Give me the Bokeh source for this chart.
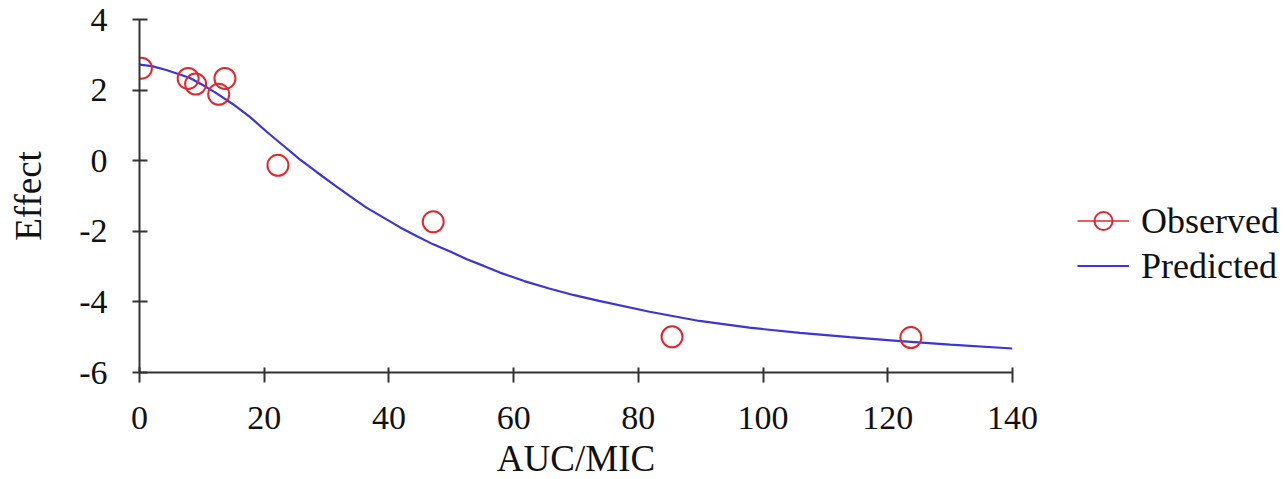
from bokeh.plotting import figure
from bokeh.models import Range1d, FixedTicker, Legend, LegendItem, PrintfTickFormatter
from bokeh.embed import file_html
from bokeh.resources import INLINE

obs_x = [0.3, 7.8, 9.0, 12.7, 13.7, 22.2, 47.1, 85.4, 123.7]
obs_y = [2.62, 2.33, 2.17, 1.88, 2.33, -0.13, -1.73, -4.99, -5.01]

# Predicted curve
pred_x = [0, 2, 4.3, 8, 10, 12, 15, 17.7, 20.4, 22.7, 25.7, 28.4, 31.1, 33.8, 36.4, 39.2,
          41.8, 44.5, 47.1, 49.9, 52.5, 55.2, 57.8, 61.7, 65.7, 69.7, 73.7, 81.8, 89.8, 97.8,
          105.9, 113.9, 122, 130, 140]
pred_y = [2.72, 2.68, 2.57, 2.35, 2.16, 1.95, 1.60, 1.24, 0.82, 0.48, 0.04, -0.32, -0.67, -1.01,
          -1.33, -1.62, -1.89, -2.14, -2.37, -2.58, -2.79, -2.98, -3.17, -3.41, -3.62, -3.81,
          -3.97, -4.28, -4.54, -4.73, -4.88, -5.00, -5.11, -5.21, -5.32]

x_ticks = [0, 20, 40, 60, 80, 100, 120, 140]
y_ticks = [-6, -4, -2, 0, 2, 4]

FONT = "Liberation Serif"
RED = "#e3262d"
BLUE = "#3b35d8"
AXC = "#333333"

p = figure(frame_width=873, frame_height=353,
           x_range=Range1d(0, 140), y_range=Range1d(-6, 4),
           output_backend="svg", toolbar_location=None,
           min_border_left=139, min_border_right=0,
           min_border_top=19, min_border_bottom=107)
p.outline_line_color = None
p.grid.visible = False
p.background_fill_color = "white"
p.border_fill_color = "white"

pred_r = p.line(pred_x, pred_y, line_color=BLUE, line_width=2.2)
obs_r = p.scatter(obs_x, obs_y, marker="circle", size=21, fill_color=None,
                  line_color=RED, line_width=2)
# legend-only line (one undefined point, draws nothing on the plot)
leg_line = p.line(x=[float("nan")], y=[float("nan")], line_color=RED, line_width=1.5)

for ax, ticks in ((p.xaxis[0], x_ticks), (p.yaxis[0], y_ticks)):
    ax.ticker = FixedTicker(ticks=ticks)
    ax.formatter = PrintfTickFormatter(format="%d")
    ax.axis_line_color = AXC
    ax.axis_line_width = 2
    ax.major_tick_line_color = AXC
    ax.major_tick_line_width = 2
    ax.minor_tick_line_color = None
    ax.major_label_text_font = FONT
    ax.major_label_text_font_size = "34px"
    ax.major_label_text_color = "#111111"
    ax.axis_label_text_font = FONT
    ax.axis_label_text_font_size = "37px"
    ax.axis_label_text_font_style = "normal"
    ax.axis_label_text_color = "#111111"

p.xaxis.axis_label = "AUC/MIC"
p.xaxis.major_tick_in = 5
p.xaxis.major_tick_out = 10
p.xaxis.major_label_standoff = 24
p.xaxis.axis_label_standoff = 6

p.yaxis.axis_label = "Effect"
p.yaxis.major_tick_in = 8
p.yaxis.major_tick_out = 7
p.yaxis.major_label_standoff = 25
p.yaxis.axis_label_standoff = 27

legend = Legend(items=[LegendItem(label="Observed", renderers=[leg_line, obs_r]),
                       LegendItem(label="Predicted", renderers=[pred_r])],
                location=(65, 84), glyph_width=52, glyph_height=45, spacing=0,
                padding=0, margin=0, border_line_color=None, background_fill_alpha=0,
                label_text_font=FONT, label_text_font_size="36px",
                label_text_color="#111111", label_standoff=12)
p.add_layout(legend, "right")

open("out.html", "w").write(file_html(p, INLINE))
